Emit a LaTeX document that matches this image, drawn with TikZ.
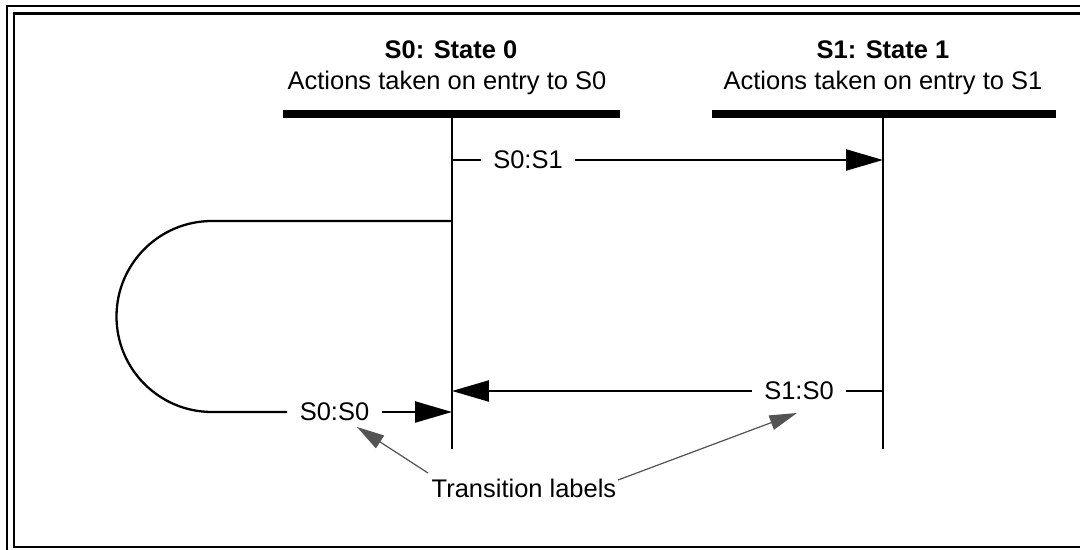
\documentclass[tikz,border=0pt]{standalone}
\usepackage{fontspec}
\setmainfont{Liberation Sans}
\usetikzlibrary{arrows.meta}

\begin{document}
\begin{tikzpicture}[x=0.02cm,y=-0.02cm,line width=1.3pt,
  >={Triangle[length=0.74cm,width=0.42cm]},
  every node/.style={font=\fontsize{14.5}{17.6}\selectfont},
  lbl/.style={inner xsep=6.5pt,inner ysep=2pt},
  bar/.style={line width=4pt},
  frame/.style={line width=1.7pt},
  pointer/.style={draw=black!67,line width=0.7pt,-{Triangle[length=0.55cm,width=0.3cm]}}
]
\useasboundingbox (0,0) rectangle (1080,550);
% double frame
\draw[frame] (7,570) -- (7,6) -- (1100,6);
\draw[frame] (1100,547) -- (14,547) -- (14,13.5) -- (1100,13.5);

% states
\node[anchor=base] (nS0) at (451,59) {\textbf{S0: State 0}};
\node[anchor=base] (nA0) at (447,90) {Actions taken on entry to S0};
\node[anchor=base] (nS1) at (883,59) {\textbf{S1: State 1}};
\node[anchor=base] (nA1) at (883,90) {Actions taken on entry to S1};
\coordinate (b0l) at (283,114);
\coordinate (b0r) at (620,114);
\coordinate (b1l) at (712,114);
\coordinate (b1r) at (1056,114);
\draw[bar] (b0l) -- (b0r);
\draw[bar] (b1l) -- (b1r);
\coordinate (v0t) at (452,116);
\coordinate (v0b) at (452,449);
\coordinate (v1t) at (883,116);
\coordinate (v1b) at (883,449);
\draw (v0t) -- (v0b);
\draw (v1t) -- (v1b);

% S0 -> S1
\coordinate (t01a) at (452,160);
\coordinate (t01b) at (883,160);
\node[lbl] (nT01) at (528,160) {S0:S1};
\draw (t01a) -- (nT01.west);
\draw[->] (nT01.east) -- (t01b);

% S1 -> S0
\coordinate (t10a) at (883,391);
\coordinate (t10b) at (452,391);
\node[lbl] (nT10) at (799,391) {S1:S0};
\draw (t10a) -- (nT10.east);
\draw[->] (nT10.west) -- (t10b);

% S0 -> S0
\coordinate (t00a) at (452,221);
\coordinate (t00b) at (452,412);
\node[lbl] (nT00) at (334.5,412) {S0:S0};
\draw (t00a) -- (212,221) arc[start angle=270,end angle=90,radius=95.5] -- (nT00.west);
\draw[->] (nT00.east) -- (t00b);

% note
\node (nNote) at (524,488) {Transition labels};
\coordinate (q0) at (428,473);
\coordinate (q1) at (618,480);
\coordinate (p0) at (357,427);
\coordinate (p1) at (797,413);
\draw[pointer] (q0) -- (p0);
\draw[pointer] (q1) -- (p1);
\end{tikzpicture}
\end{document}
